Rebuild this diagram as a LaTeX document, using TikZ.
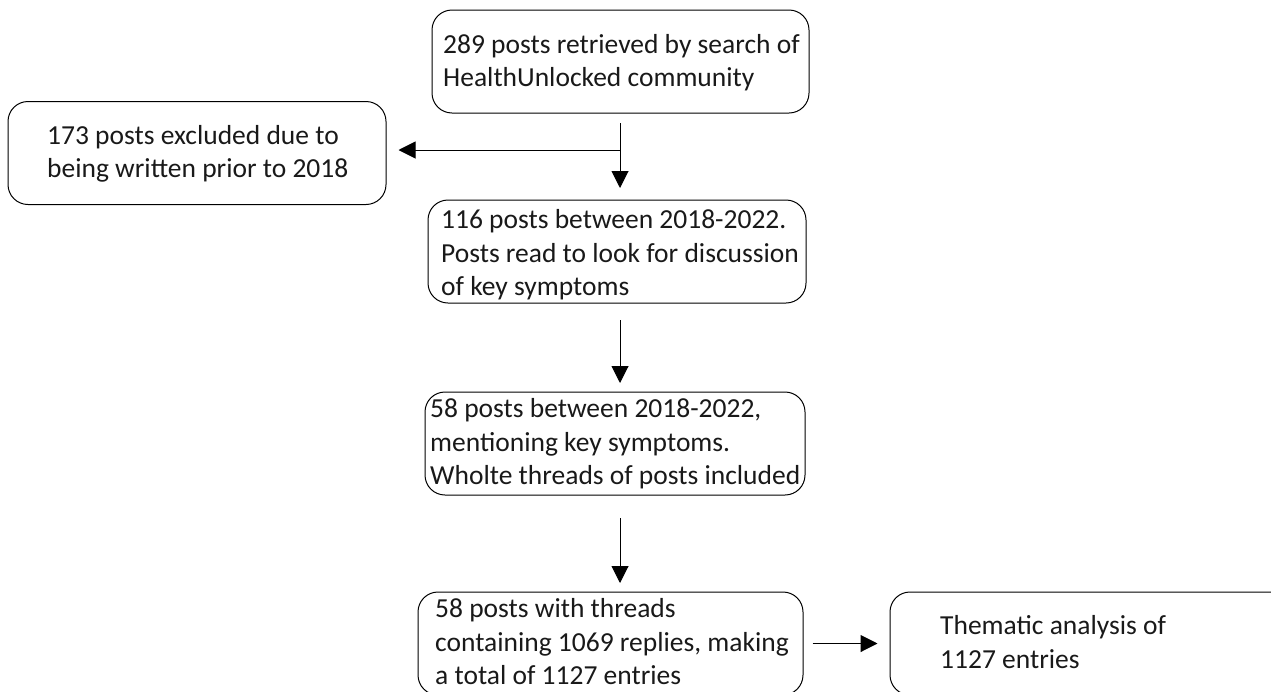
\documentclass[tikz,border=0pt]{standalone}
\usepackage{fontspec}
\setmainfont{Carlito}
\usetikzlibrary{arrows.meta,calc}
\begin{document}
\begin{tikzpicture}[x=1pt,y=1pt,
  box/.style={draw=black, line width=1pt, rounded corners=20pt, minimum width=#1, minimum height=103pt, inner sep=0pt},
  box/.default=378pt,
  txt/.style={anchor=west, align=left, inner sep=0pt, font=\fontsize{27.5}{33.5}\selectfont, text=black!90},
  arr/.style={line width=1pt, -{Triangle[length=17pt,width=17pt]}}]
\useasboundingbox (0,0) rectangle (1271,-691);
\clip (0,0) rectangle (1271,-691);
\node[box=377pt] (b1) at (620.5,-61.5) {};
\node[txt] (t1) at (443,-62.5) {289 posts retrieved by search of\\HealthUnlocked community};
\node[box=378pt] (ex) at (197,-153) {};
\node[txt] (tex) at (47,-154) {173 posts excluded due to\\being written prior to 2018};
\node[box=378pt] (b2) at (617,-251.5) {};
\node[txt] (t2) at (441,-255) {116 posts between 2018-2022.\\Posts read to look for discussion\\of key symptoms};
\node[box=380pt] (b3) at (615,-443.5) {};
\node[txt] (t3) at (430,-444) {58 posts between 2018-2022,\\mentioning key symptoms.\\Wholte threads of posts included};
\node[box=385pt] (b4) at (610.5,-643.5) {};
\node[txt] (t4) at (435,-642) {58 posts with threads\\containing 1069 replies, making\\a total of 1127 entries};
\node[box=400pt] (b5) at (1090,-643.5) {};
\node[txt] (t5) at (940,-642) {Thematic analysis of\\1127 entries};
\coordinate (j) at (620,-150);
\draw[arr] (620,-123) -- (620,-188);
\draw[arr] (j) -- ($(ex.east)+(12,3)$);
\draw[arr] (620,-320) -- (620,-383);
\draw[arr] (620,-518) -- (620,-583);
\draw[arr] ($(b4.east)+(9,0)$) -- ($(b5.west)+(-12,0)$);
\end{tikzpicture}
\end{document}
